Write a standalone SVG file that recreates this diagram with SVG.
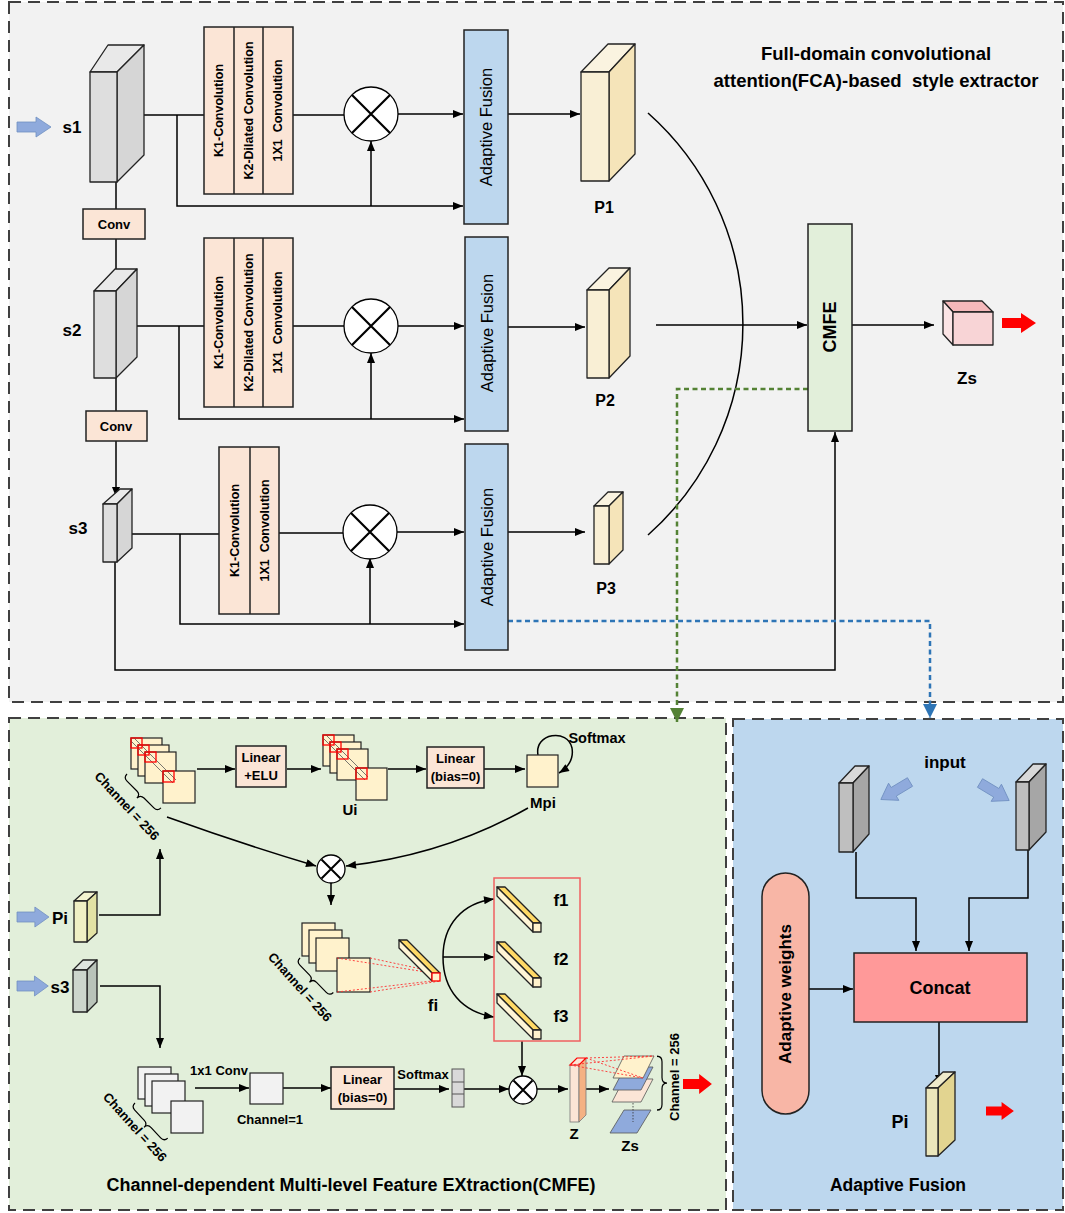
<svg xmlns="http://www.w3.org/2000/svg" xmlns:xlink="http://www.w3.org/1999/xlink" width="1065" height="1213" viewBox="0 0 1065 1213">
<style>
.t{font-family:"Liberation Sans",Arial,sans-serif;font-weight:bold;fill:#000}
.n{font-family:"Liberation Sans",Arial,sans-serif;fill:#000}
.ln{stroke:#000;stroke-width:1.5;fill:none}
.a{marker-end:url(#ah)}
.box{stroke:#222;stroke-width:1.5}
.pe{fill:#fbe5d6}
.af{fill:#bdd7ee}
.panel{stroke:#404040;stroke-width:2;stroke-dasharray:12 7}
.ed{stroke:#222;stroke-width:1.3;stroke-linejoin:round}
.rd{stroke:#ff3030;stroke-width:0.9;stroke-dasharray:2 2;fill:none}
.sq{fill:#fff2cc;stroke:#222;stroke-width:1.2}
.rs{fill:none;stroke:#ff0000;stroke-width:1.3}
</style>
<defs>
<marker id="ah" viewBox="0 0 10 8" refX="10" refY="4" markerWidth="11" markerHeight="8" orient="auto" markerUnits="userSpaceOnUse"><path d="M0,0 L10,4 L0,8 z" fill="#000"/></marker>
<marker id="ahg" viewBox="0 0 10 10" refX="10" refY="5" markerWidth="14" markerHeight="14" orient="auto" markerUnits="userSpaceOnUse"><path d="M0,0 L10,5 L0,10 z" fill="#548235"/></marker>
<marker id="ahb" viewBox="0 0 10 10" refX="10" refY="5" markerWidth="14" markerHeight="14" orient="auto" markerUnits="userSpaceOnUse"><path d="M0,0 L10,5 L0,10 z" fill="#2e75b6"/></marker>
<path id="bar" d="M0,-5 H19 V-10 L34,0 L19,10 V5 H0 Z"/>
<path id="brace" d="M0,0 Q0,5 5,5 H19 Q24,5 24,10 Q24,5 29,5 H43 Q48,5 48,0"/>
<g id="ox"><circle r="27" fill="#fff" stroke="#000" stroke-width="1.3"/><path d="M-19,-19 L19,19 M19,-19 L-19,19" stroke="#000" stroke-width="2.2"/></g>
<g id="oxs"><circle r="14" fill="#fff" stroke="#000" stroke-width="1.3"/><path d="M-9.5,-9.5 L9.5,9.5 M9.5,-9.5 L-9.5,9.5" stroke="#000" stroke-width="2"/></g>
</defs>

<!-- panels -->
<g id="panels">
<rect class="panel" x="9" y="2" width="1054" height="700" fill="#f2f2f2"/>
<rect class="panel" x="9" y="718" width="717" height="492" fill="#e2efda"/>
<rect class="panel" x="733" y="719" width="330" height="491" fill="#bdd7ee"/>
</g>

<text class="t" x="876" y="60" font-size="18.5" text-anchor="middle">Full-domain convolutional</text>
<text class="t" x="876" y="87" font-size="18.5" text-anchor="middle" xml:space="preserve">attention(FCA)-based  style extractor</text>

<!-- connectors -->
<g id="connectors">
<path class="ln" d="M130,115 H204"/>
<path class="ln a" d="M177,115 V206 H463"/>
<path class="ln" d="M293,115 H344"/>
<path class="ln a" d="M398,114 H463"/>
<path class="ln a" d="M371,206 V141"/>
<path class="ln a" d="M508,114 H580"/>
<path class="ln" d="M116,182 V209"/>
<path class="ln a" d="M116,239 V282"/>
<path class="ln" d="M130,326 H204"/>
<path class="ln a" d="M179,326 V419 H464"/>
<path class="ln" d="M293,326 H344"/>
<path class="ln a" d="M398,326 H464"/>
<path class="ln a" d="M371,419 V353"/>
<path class="ln a" d="M508,327 H585"/>
<path class="ln" d="M116,378 V411"/>
<path class="ln a" d="M116,441 V497"/>
<path class="ln" d="M127,534 H219"/>
<path class="ln a" d="M180,534 V624 H464"/>
<path class="ln" d="M279,533 H344"/>
<path class="ln a" d="M396,532 H464"/>
<path class="ln a" d="M370,624 V558"/>
<path class="ln a" d="M508,532 H585"/>
<path class="ln a" d="M115,562 V670 H835 V432"/>
<path class="ln" d="M648,113 A282,282 0 0,1 648,535"/>
<path class="ln a" d="M656,325 H807"/>
<path class="ln a" d="M852,325 H934"/>
<path d="M808,389 H677 V722" fill="none" stroke="#548235" stroke-width="2.5" stroke-dasharray="5 3.5" marker-end="url(#ahg)"/>
<path d="M508,621 H930 V718" fill="none" stroke="#2e75b6" stroke-width="2.5" stroke-dasharray="5 3.5" marker-end="url(#ahb)"/>

<path class="ln a" d="M197,769 H235"/>
<path class="ln a" d="M287,769 H321"/>
<path class="ln a" d="M388,769 H426"/>
<path class="ln a" d="M484,769 H525"/>
<path class="ln a" d="M538,755 C534,733 568,728 572,748 C574,760 567,768 559,773"/>
<path class="ln a" d="M167,817 Q245,845 316,866"/>
<path class="ln a" d="M528,808 Q445,855 346,866"/>
<path class="ln a" d="M99,915 H160 V849"/>
<path class="ln a" d="M331,883 V905"/>
<path class="ln a" d="M443,957 C443,925 462,903 494,899"/>
<path class="ln a" d="M443,957 H494"/>
<path class="ln a" d="M443,957 C443,990 462,1012 494,1017"/>
<path class="ln a" d="M522,1041 V1076"/>
<path class="ln a" d="M100,986 H160 V1048"/>
<path class="ln a" d="M195,1088 H249"/>
<path class="ln a" d="M283,1088 H331"/>
<path class="ln a" d="M394,1089 H449"/>
<path class="ln a" d="M464,1089 H509"/>
<path class="ln a" d="M537,1089 H568"/>
<path class="ln a" d="M586,1089 H609"/>

<path class="ln a" d="M856,852 V898 H916 V951"/>
<path class="ln a" d="M1028,850 V898 H969 V951"/>
<path class="ln a" d="M809,989 H853"/>
<path class="ln a" d="M939,1022 V1085"/>
</g>

<!-- FCA top panel nodes -->
<g id="s1">
<use href="#bar" transform="translate(17,127)" fill="#8faadc" stroke="#6f8fc0" stroke-width="0.8"/>
<text class="t" x="72" y="133" font-size="17" text-anchor="middle">s1</text>
<polygon class="ed" points="90,72 117,72 144,45 108,45" fill="#e9e9e9"/>
<polygon class="ed" points="117,72 144,45 144,155 117,182" fill="#d6d6d6"/>
<rect class="ed" x="90" y="72" width="27" height="110" fill="#dedede"/>
</g>
<g id="conv1"><rect class="box pe" x="83" y="209" width="62" height="30"/><text class="t" x="114" y="229" font-size="13" text-anchor="middle">Conv</text></g>
<g id="s2">
<text class="t" x="72" y="336" font-size="17" text-anchor="middle">s2</text>
<polygon class="ed" points="94,291 116,291 137,269 115,269" fill="#e9e9e9"/>
<polygon class="ed" points="116,291 137,269 137,357 116,378" fill="#d6d6d6"/>
<rect class="ed" x="94" y="291" width="22" height="87" fill="#dedede"/>
</g>
<g id="conv2"><rect class="box pe" x="86" y="411" width="61" height="30"/><text class="t" x="116" y="431" font-size="13" text-anchor="middle">Conv</text></g>
<g id="s3">
<text class="t" x="78" y="534" font-size="17" text-anchor="middle">s3</text>
<polygon class="ed" points="103,504 117,504 132,489 120,489" fill="#e9e9e9"/>
<polygon class="ed" points="117,504 132,489 132,548 117,562" fill="#d6d6d6"/>
<rect class="ed" x="103" y="504" width="14" height="58" fill="#dedede"/>
</g>

<g id="kbox1">
<rect class="box pe" x="204" y="27" width="89" height="167"/>
<path d="M234,27 V194 M263,27 V194" stroke="#222" stroke-width="1.5"/>
<text class="t" font-size="12.5" text-anchor="middle" dominant-baseline="central" transform="translate(219,110.5) rotate(-90)">K1-Convolution</text>
<text class="t" font-size="12.5" text-anchor="middle" dominant-baseline="central" transform="translate(248.5,110.5) rotate(-90)">K2-Dilated Convolution</text>
<text class="t" font-size="12.5" text-anchor="middle" dominant-baseline="central" transform="translate(278,110.5) rotate(-90)" xml:space="preserve">1X1  Convolution</text>
</g>
<g id="kbox2">
<rect class="box pe" x="204" y="238" width="89" height="169"/>
<path d="M234,238 V407 M263,238 V407" stroke="#222" stroke-width="1.5"/>
<text class="t" font-size="12.5" text-anchor="middle" dominant-baseline="central" transform="translate(219,322.5) rotate(-90)">K1-Convolution</text>
<text class="t" font-size="12.5" text-anchor="middle" dominant-baseline="central" transform="translate(248.5,322.5) rotate(-90)">K2-Dilated Convolution</text>
<text class="t" font-size="12.5" text-anchor="middle" dominant-baseline="central" transform="translate(278,322.5) rotate(-90)" xml:space="preserve">1X1  Convolution</text>
</g>
<g id="kbox3">
<rect class="box pe" x="219" y="447" width="60" height="167"/>
<path d="M250,447 V614" stroke="#222" stroke-width="1.5"/>
<text class="t" font-size="12.5" text-anchor="middle" dominant-baseline="central" transform="translate(234.5,530.5) rotate(-90)">K1-Convolution</text>
<text class="t" font-size="12.5" text-anchor="middle" dominant-baseline="central" transform="translate(264.5,530.5) rotate(-90)" xml:space="preserve">1X1  Convolution</text>
</g>

<g id="mul1"><use href="#ox" x="371" y="114"/></g>
<g id="mul2"><use href="#ox" x="371" y="326"/></g>
<g id="mul3"><use href="#ox" x="370" y="532"/></g>

<g id="af1"><rect class="box af" x="464" y="30" width="44" height="194"/><text class="n" font-size="16.5" text-anchor="middle" dominant-baseline="central" transform="translate(486,127) rotate(-90)">Adaptive Fusion</text></g>
<g id="af2"><rect class="box af" x="465" y="237" width="43" height="194"/><text class="n" font-size="16.5" text-anchor="middle" dominant-baseline="central" transform="translate(486.5,333) rotate(-90)">Adaptive Fusion</text></g>
<g id="af3"><rect class="box af" x="465" y="444" width="43" height="206"/><text class="n" font-size="16.5" text-anchor="middle" dominant-baseline="central" transform="translate(486.5,547) rotate(-90)">Adaptive Fusion</text></g>

<g id="p1">
<polygon class="ed" points="581,72 609,72 635,44 608,44" fill="#faf3e0"/>
<polygon class="ed" points="609,72 635,44 635,154 609,181" fill="#f5e4b9"/>
<rect class="ed" x="581" y="72" width="28" height="109" fill="#f9efd5"/>
<text class="t" x="604" y="213" font-size="16" text-anchor="middle">P1</text>
</g>
<g id="p2">
<polygon class="ed" points="587,290 609,290 630,268 609,268" fill="#faf3e0"/>
<polygon class="ed" points="609,290 630,268 630,356 609,378" fill="#f5e4b9"/>
<rect class="ed" x="587" y="290" width="22" height="88" fill="#f9efd5"/>
<text class="t" x="605" y="406" font-size="16" text-anchor="middle">P2</text>
</g>
<g id="p3">
<polygon class="ed" points="594,506 609,506 623,492 608,492" fill="#faf3e0"/>
<polygon class="ed" points="609,506 623,492 623,550 609,564" fill="#f5e4b9"/>
<rect class="ed" x="594" y="506" width="15" height="58" fill="#f9efd5"/>
<text class="t" x="606" y="594" font-size="16" text-anchor="middle">P3</text>
</g>

<g id="cmfe"><rect class="box" x="808" y="224" width="44" height="207" fill="#e2efda"/><text class="t" font-size="18" text-anchor="middle" dominant-baseline="central" transform="translate(830,327) rotate(-90)">CMFE</text></g>

<g id="zs">
<polygon class="ed" points="943,301 982,301 993,312 953,312" fill="#f4b8ba"/>
<polygon class="ed" points="943,301 953,312 953,345 943,334" fill="#fbe4e5"/>
<rect class="ed" x="953" y="312" width="40" height="33" fill="#f8d4d6"/>
<use href="#bar" transform="translate(1002,323)" fill="#ff0000"/>
<text class="t" x="967" y="384" font-size="17" text-anchor="middle">Zs</text>
</g>

<!-- CMFE panel -->
<g id="stack1">
<rect class="sq" x="131" y="738" width="31" height="31"/>
<rect class="sq" x="138" y="745" width="31" height="31"/>
<rect class="sq" x="145" y="752" width="31" height="31"/>
<rect class="sq" x="163" y="771" width="32" height="32"/>
<path d="M134,738 L176,780 M131,741 L173,783" stroke="#555" stroke-width="0.8"/>
<rect class="rs" x="131" y="738" width="11" height="10"/>
<rect class="rs" x="138" y="745" width="11" height="10"/>
<rect class="rs" x="145" y="752" width="11" height="10"/>
<rect class="rs" x="163" y="771" width="11" height="11"/>
<use href="#brace" class="ln" style="stroke-width:1.2" transform="translate(127,774) rotate(45)"/>
<text class="t" font-size="13" text-anchor="middle" dominant-baseline="central" transform="translate(127,806) rotate(47)">Channel = 256</text>
</g>
<g id="lin1"><rect class="box pe" x="236" y="746" width="50" height="41"/><text class="t" x="261" y="762" font-size="13" text-anchor="middle">Linear</text><text class="t" x="261" y="780" font-size="13" text-anchor="middle">+ELU</text></g>
<g id="ui">
<rect class="sq" x="323" y="735" width="31" height="31"/>
<rect class="sq" x="330" y="742" width="31" height="31"/>
<rect class="sq" x="337" y="749" width="31" height="31"/>
<rect class="sq" x="356" y="768" width="31" height="32"/>
<path d="M326,735 L368,777 M323,738 L365,780" stroke="#555" stroke-width="0.8"/>
<rect class="rs" x="323" y="735" width="11" height="10"/>
<rect class="rs" x="330" y="742" width="11" height="10"/>
<rect class="rs" x="337" y="749" width="11" height="10"/>
<rect class="rs" x="356" y="768" width="11" height="11"/>
<text class="t" x="350" y="815" font-size="15" text-anchor="middle">Ui</text>
</g>
<g id="lin2"><rect class="box pe" x="427" y="747" width="57" height="41"/><text class="t" x="455.5" y="763" font-size="13" text-anchor="middle">Linear</text><text class="t" x="455.5" y="781" font-size="13" text-anchor="middle">(bias=0)</text></g>
<g id="mpi">
<rect class="sq" x="527" y="755" width="31" height="32"/>
<text class="t" x="543" y="808" font-size="15" text-anchor="middle">Mpi</text>
<text class="t" x="597" y="743" font-size="14.5" text-anchor="middle">Softmax</text>
</g>
<g id="mul4"><use href="#oxs" x="331" y="869"/></g>
<g id="pi">
<use href="#bar" transform="translate(17,917) scale(0.94,1)" fill="#8faadc" stroke="#6f8fc0" stroke-width="0.8"/>
<text class="t" x="60" y="924" font-size="17" text-anchor="middle">Pi</text>
<polygon class="ed" points="74,901 87,901 97,892 84,892" fill="#f3f3d0"/>
<polygon class="ed" points="87,901 97,892 97,933 87,942" fill="#e2e2a4"/>
<rect class="ed" x="74" y="901" width="13" height="41" fill="#efefc4"/>
</g>
<g id="stack2">
<rect class="sq" x="302" y="923" width="33" height="33"/>
<rect class="sq" x="309" y="930" width="33" height="33"/>
<rect class="sq" x="316" y="938" width="33" height="33"/>
<rect class="sq" x="337" y="958" width="33" height="34"/>
<use href="#brace" class="ln" style="stroke-width:1.2" transform="translate(300,958) rotate(46)"/>
<text class="t" font-size="13" text-anchor="middle" dominant-baseline="central" transform="translate(300,987) rotate(48)">Channel = 256</text>
<path class="rd" d="M337,958 L432,973 M370,958 L440,973 M337,992 L432,981 M370,992 L440,981"/>
</g>
<g id="fi">
<polygon class="ed" points="432,973 440,973 407,940 399,940" fill="#ffd966" stroke-width="0.8"/>
<polygon class="ed" points="432,973 432,981 399,948 399,940" fill="#fff5d6" stroke-width="0.8"/>
<rect x="432" y="973" width="8" height="8" fill="#fff2cc" stroke="#ff0000" stroke-width="1.3"/>
<text class="t" x="433" y="1011" font-size="17" text-anchor="middle">fi</text>
</g>
<g id="fset">
<rect x="494" y="878" width="86" height="163" fill="none" stroke="#f06060" stroke-width="1.5"/>
<polygon class="ed" points="533,923 541,923 505,887 497,887" fill="#ffd966" stroke-width="0.8"/>
<polygon class="ed" points="533,923 533,932 497,896 497,887" fill="#fff5d6" stroke-width="0.8"/>
<rect class="ed" x="533" y="923" width="8" height="9" fill="#fff2cc" stroke-width="0.8"/>
<polygon class="ed" points="533,978 541,978 505,942 497,942" fill="#ffd966" stroke-width="0.8"/>
<polygon class="ed" points="533,978 533,987 497,951 497,942" fill="#fff5d6" stroke-width="0.8"/>
<rect class="ed" x="533" y="978" width="8" height="9" fill="#fff2cc" stroke-width="0.8"/>
<polygon class="ed" points="533,1030 541,1030 505,994 497,994" fill="#ffd966" stroke-width="0.8"/>
<polygon class="ed" points="533,1030 533,1039 497,1003 497,994" fill="#fff5d6" stroke-width="0.8"/>
<rect class="ed" x="533" y="1030" width="8" height="9" fill="#fff2cc" stroke-width="0.8"/>
<text class="t" x="561" y="906" font-size="17" text-anchor="middle">f1</text>
<text class="t" x="561" y="965" font-size="17" text-anchor="middle">f2</text>
<text class="t" x="561" y="1022" font-size="17" text-anchor="middle">f3</text>
</g>
<g id="s3b">
<use href="#bar" transform="translate(17,986) scale(0.92,1)" fill="#8faadc" stroke="#6f8fc0" stroke-width="0.8"/>
<text class="t" x="60" y="993" font-size="17" text-anchor="middle">s3</text>
<polygon class="ed" points="73,970 87,970 97,960 83,960" fill="#dfe5df"/>
<polygon class="ed" points="87,970 97,960 97,1002 87,1012" fill="#b9c3b9"/>
<rect class="ed" x="73" y="970" width="14" height="42" fill="#cdd6cd"/>
</g>
<g id="stack3">
<rect class="sq" style="fill:#f2f2f2" x="138" y="1067" width="33" height="32"/>
<rect class="sq" style="fill:#f2f2f2" x="145" y="1074" width="33" height="32"/>
<rect class="sq" style="fill:#f2f2f2" x="152" y="1081" width="33" height="32"/>
<rect class="sq" style="fill:#f2f2f2" x="171" y="1101" width="32" height="32"/>
<use href="#brace" class="ln" style="stroke-width:1.2" transform="translate(135,1103) rotate(47)"/>
<text class="t" font-size="13" text-anchor="middle" dominant-baseline="central" transform="translate(135,1127) rotate(48)">Channel = 256</text>
</g>
<text class="t" x="219" y="1075" font-size="13" text-anchor="middle">1x1 Conv</text>
<g id="c1"><rect x="250" y="1073" width="33" height="31" fill="#f2f2f2" stroke="#222" stroke-width="1.2"/><text class="t" x="270" y="1124" font-size="13" text-anchor="middle">Channel=1</text></g>
<g id="lin3"><rect class="box pe" x="331" y="1067" width="63" height="42"/><text class="t" x="362.5" y="1084" font-size="13" text-anchor="middle">Linear</text><text class="t" x="362.5" y="1102" font-size="13" text-anchor="middle">(bias=0)</text></g>
<text class="t" x="423" y="1079" font-size="13" text-anchor="middle">Softmax</text>
<g id="sv"><rect x="452" y="1069" width="12" height="38" fill="#d9d9d9" stroke="#555" stroke-width="1"/><path d="M452,1082 H464 M452,1094 H464" stroke="#555" stroke-width="1"/></g>
<g id="mul5"><use href="#oxs" x="523" y="1090"/></g>
<g id="z">
<rect x="570" y="1065" width="9" height="57" fill="#fbe5d6" stroke="#777" stroke-width="0.8"/>
<polygon points="579,1065 586,1058 586,1115 579,1122" fill="#f4b183" stroke="#777" stroke-width="0.8"/>
<polygon points="570,1065 579,1065 586,1058 577,1058" fill="#fbe5d6" stroke="#ff0000" stroke-width="1.2"/>
<text class="t" x="574" y="1139" font-size="15" text-anchor="middle">Z</text>
</g>
<g id="zsplanes">
<polygon points="624,1079 653,1079 641,1102 612,1102" fill="#fbe5d6" stroke="#555" stroke-width="0.8"/>
<polygon points="625,1067 653,1067 641,1090 613,1090" fill="#8faadc" stroke="#555" stroke-width="0.8"/>
<polygon points="624,1056 654,1056 643,1078 613,1078" fill="#fff2cc" stroke="#555" stroke-width="0.8"/>
<polygon points="624,1110 651,1110 637,1133 610,1133" fill="#8faadc" stroke="#555" stroke-width="0.8"/>
<path d="M633,1103 V1122" stroke="#333" stroke-width="0.8" stroke-dasharray="1.5 1.5"/>
<path class="rd" d="M570,1065 L654,1056 M586,1058 L654,1056 M570,1065 L643,1078 M586,1058 L643,1078"/>
<use href="#brace" class="ln" style="stroke-width:1.2" transform="translate(657,1110) rotate(-90) scale(1.12,1)"/>
<text class="t" font-size="13" text-anchor="middle" dominant-baseline="central" transform="translate(674,1077) rotate(-90)">Channel = 256</text>
<use href="#bar" transform="translate(683,1084) scale(0.85,1)" fill="#ff0000"/>
<text class="t" x="630" y="1151" font-size="15" text-anchor="middle">Zs</text>
</g>
<text class="t" x="351" y="1191" font-size="18" text-anchor="middle">Channel-dependent Multi-level Feature EXtraction(CMFE)</text>

<!-- Adaptive Fusion panel -->
<text class="t" x="945" y="768" font-size="17" text-anchor="middle">input</text>
<g id="in1">
<polygon class="ed" points="839,783 853,783 869,766 855,766" fill="#d9d9d9"/>
<polygon class="ed" points="853,783 869,766 869,834 853,852" fill="#a6a6a6"/>
<rect class="ed" x="839" y="783" width="14" height="69" fill="#bfbfbf"/>
</g>
<g id="in2">
<polygon class="ed" points="1016,782 1029,782 1046,764 1033,764" fill="#d9d9d9"/>
<polygon class="ed" points="1029,782 1046,764 1046,832 1029,850" fill="#a6a6a6"/>
<rect class="ed" x="1016" y="782" width="13" height="68" fill="#bfbfbf"/>
</g>
<use href="#bar" transform="translate(910,782) rotate(149)" fill="#8faadc" stroke="#6f8fc0" stroke-width="0.8"/>
<use href="#bar" transform="translate(980,783) rotate(31)" fill="#8faadc" stroke="#6f8fc0" stroke-width="0.8"/>
<g id="concat"><rect class="box" x="854" y="953" width="173" height="69" fill="#ff9999"/><text class="t" x="940" y="994" font-size="18" text-anchor="middle">Concat</text></g>
<g id="aw"><rect class="box" x="762" y="873" width="47" height="241" rx="23.5" fill="#f8b6a6"/><text class="t" font-size="17" text-anchor="middle" dominant-baseline="central" transform="translate(785.5,994) rotate(-90)">Adaptive weights</text></g>
<g id="pib">
<polygon class="ed" points="926,1088 938,1088 955,1072 943,1072" fill="#eeeacb"/>
<polygon class="ed" points="938,1088 955,1072 955,1140 938,1156" fill="#e2d490"/>
<rect class="ed" x="926" y="1088" width="12" height="68" fill="#ebe6bb"/>
<text class="t" x="900" y="1128" font-size="18" text-anchor="middle">Pi</text>
<use href="#bar" transform="translate(986,1111) scale(0.82,0.9)" fill="#ff0000"/>
</g>
<text class="t" x="898" y="1191" font-size="17.5" text-anchor="middle">Adaptive Fusion</text>
</svg>
